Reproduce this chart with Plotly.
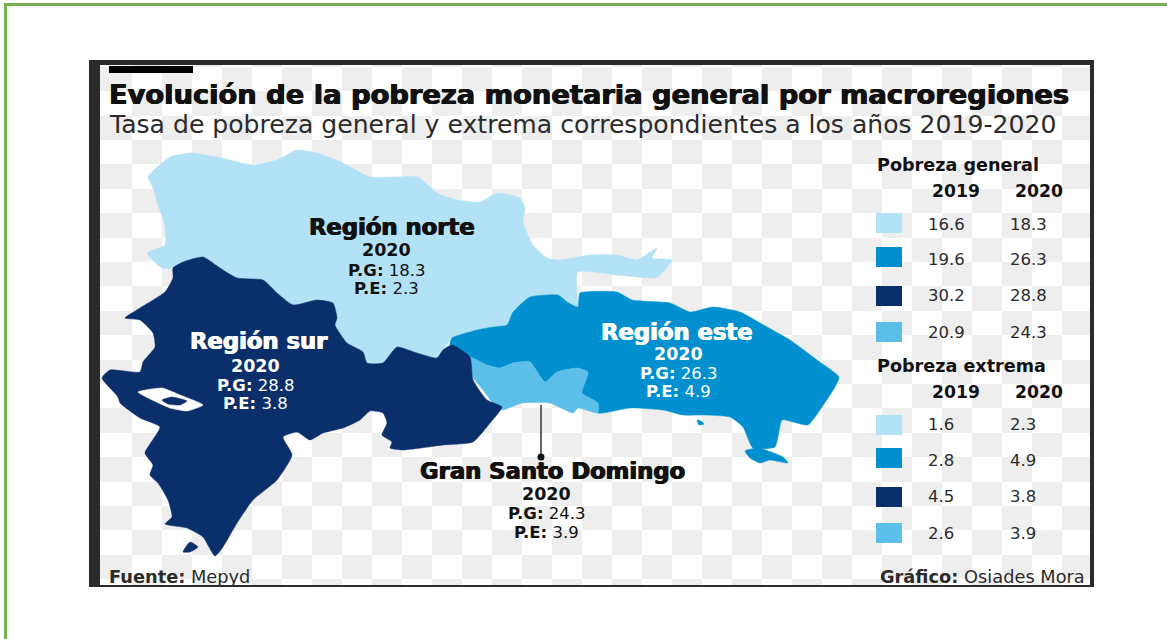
import numpy as np
import plotly.graph_objects as go

W, H = 1167, 639

# ---- chart values ----
regions = ["Región norte", "Región este", "Región sur", "Gran Santo Domingo"]
pg_2019 = [16.6, 19.6, 30.2, 20.9]
pg_2020 = [18.3, 26.3, 28.8, 24.3]
pe_2019 = [1.6, 2.8, 4.5, 2.6]
pe_2020 = [2.3, 4.9, 3.8, 3.9]
region_colors = ["#b3e2f7", "#0090cf", "#0a2f6b", "#5bbfe9"]
title = "Evolución de la pobreza monetaria general por macroregiones"
subtitle = "Tasa de pobreza general y extrema correspondientes a los años 2019-2020"

# ---- map outlines ----
norte_x = [148,170,190,217,253,277,297,317,343,370,397,418,437,457,480,497,520,525,523,533,547,560,590,617,637,657,652,672,658,650,617,578,577,578,567,558,530,513,507,493,477,452,443,437,417,397,383,367,363,347,335,337,333,317,293,277,263,237,220,203,183,173,162,147,165,165,158,153]
norte_y = [177,157,153,157,165,160,150,153,163,177,177,177,193,200,202,193,198,208,222,245,258,260,255,255,260,248,258,260,277,278,275,272,295,307,302,295,297,312,325,327,330,338,350,358,353,347,363,363,352,343,325,318,303,300,305,293,280,278,268,257,262,268,268,253,245,225,205,188]
sur_x = [203,220,237,263,277,293,317,333,337,335,347,363,367,383,397,417,437,443,452,470,473,487,502,490,473,443,403,390,392,382,387,383,370,360,343,323,310,297,283,292,277,253,237,223,215,203,187,165,172,168,158,150,153,145,160,140,120,118,102,110,140,143,155,153,140,125,140,165,173,173,183]
sur_y = [257,268,278,280,293,305,300,303,318,325,343,352,363,363,347,353,358,350,345,357,380,400,407,423,442,445,450,448,442,435,423,413,411,420,428,433,440,432,437,455,480,500,523,547,556,537,528,524,517,500,483,475,465,453,427,418,403,397,378,370,372,362,347,333,320,318,308,292,278,268,262]
este_x = [452,477,493,507,513,530,558,567,578,580,617,632,670,690,713,740,767,790,817,839,835,820,808,793,782,775,753,743,730,703,683,663,630,598,598,582,588,577,557,545,530,513,500,487,470,450]
este_y = [338,330,327,325,312,297,295,302,307,293,292,300,303,312,307,312,327,340,360,377,387,410,425,422,420,447,448,427,417,415,415,410,408,413,403,393,372,368,372,382,362,363,368,365,357,345]
sd_x = [470,487,500,513,530,545,557,577,588,582,598,598,578,573,550,522,502,493,483,473]
sd_y = [357,365,368,363,362,382,372,368,372,393,403,413,408,413,403,403,410,403,390,377]
lake_x = [138,162,180,203,187,170,148]
lake_y = [392,388,395,405,411,408,398]
lake_island_x = [162,172,187,180,168]
lake_island_y = [400,397,401,405,404]
beata_x = [183,190,198,190]
beata_y = [552,542,547,552]
islet_x = [697,701,704,699]
islet_y = [420,421,424,425]
saona_x = [745,758,783,788,770,760,750]
saona_y = [451,448,457,463,460,463,458]

GRAY = "#eeeeee"
DARK = "#2b2b2b"
GREEN = "#76b150"
FONT = "DejaVu Sans"
INK = "#111111"
SOFT = "#2b2b2b"

fig = go.Figure()

# checker backdrop, clipped to the frame
xe = np.r_[100, 102 + 30 * np.arange(1, 33), 1091]
ye = np.r_[65, 140 + 24.4 * np.arange(-3, 19), 585]
z = np.add.outer(np.arange(len(ye) - 1), np.arange(len(xe) - 1)) % 2
fig.add_trace(go.Heatmap(x=xe, y=ye, z=z, zmin=0, zmax=1, showscale=False, hoverinfo="skip",
                         colorscale=[[0, "#ffffff"], [1, GRAY]]))


def poly(xs, ys, color, smooth=0.5):
    fig.add_trace(go.Scatter(x=xs + xs[:1], y=ys + ys[:1], mode="lines", fill="toself",
                             fillcolor=color, hoverinfo="skip",
                             line=dict(color=color, width=0.5, shape="spline", smoothing=smooth)))


poly(norte_x, norte_y, region_colors[0])
poly(este_x, este_y, region_colors[1])
poly(sd_x, sd_y, region_colors[3])
poly(sur_x, sur_y, region_colors[2])
poly(lake_x, lake_y, "#ffffff")
poly(lake_island_x, lake_island_y, region_colors[2])
poly(beata_x, beata_y, region_colors[2])
poly(islet_x, islet_y, region_colors[1])
poly(saona_x, saona_y, region_colors[1])

# leader line
fig.add_trace(go.Scatter(x=[541, 541], y=[405, 457], mode="lines", line=dict(color="#666666", width=2), hoverinfo="skip"))
fig.add_trace(go.Scatter(x=[541], y=[457], mode="markers", marker=dict(color=INK, size=7), hoverinfo="skip"))


def txt(x, y, s, size, color=INK, anchor="center", heavy=False):
    f = dict(size=size, color=color, family=FONT)
    if heavy:
        f["shadow"] = f"0.6px 0 0 {color}, -0.6px 0 0 {color}"
    shift = {"left": -2, "right": 2, "center": 0}[anchor]
    fig.add_annotation(x=x + shift, y=y, text=s, showarrow=False, xanchor=anchor, yanchor="middle",
                       font=f, xref="x", yref="y")


# titles
txt(109, 94, f"<b>{title}</b>", 27.3, INK, "left", True)
txt(109, 124, subtitle, 25.1, SOFT, "left")

# region labels
label_pos = [
    dict(cx=392, ys=[227, 250, 270, 288], color=INK, dx=-6),
    dict(cx=677, ys=[332, 354, 373, 391], color="#ffffff", dx=1),
    dict(cx=259, ys=[341, 366, 385, 403], color="#ffffff", dx=-4),
    dict(cx=552, ys=[471, 494, 513, 532], color=INK, dx=-6),
]
for i, r in enumerate(regions):
    p = label_pos[i]
    c, ys = p["cx"], p["ys"]
    txt(c, ys[0], f"<b>{r}</b>", 22.7, p["color"], heavy=True)
    txt(c + p["dx"], ys[1], "<b>2020</b>", 17.5, p["color"])
    txt(c + p["dx"], ys[2], f"<b>P.G:</b> {pg_2020[i]}", 16.5, p["color"])
    txt(c + p["dx"], ys[3], f"<b>P.E:</b> {pe_2020[i]}", 16.5, p["color"])

# legend tables
txt(877, 165, "<b>Pobreza general</b>", 17.6, anchor="left")
txt(956, 191, "<b>2019</b>", 17.2)
txt(1039, 191, "<b>2020</b>", 17.2)
txt(877, 366, "<b>Pobreza extrema</b>", 17.6, anchor="left")
txt(956, 392, "<b>2019</b>", 17.2)
txt(1039, 392, "<b>2020</b>", 17.2)

swatch_top_g = [213, 247, 286, 322]
swatch_top_e = [415, 448, 487, 523]
row_g = [224, 259, 295, 332]
row_e = [424, 460, 496, 533]
shapes = []
for i in range(4):
    for top in (swatch_top_g[i], swatch_top_e[i]):
        shapes.append(dict(type="rect", x0=876, x1=902, y0=top, y1=top + 20, xref="x", yref="y",
                           fillcolor=region_colors[i], line=dict(width=0), layer="above"))
    txt(928, row_g[i], f"{pg_2019[i]}", 16.5, SOFT, "left")
    txt(1010, row_g[i], f"{pg_2020[i]}", 16.5, SOFT, "left")
    txt(928, row_e[i], f"{pe_2019[i]}", 16.5, SOFT, "left")
    txt(1010, row_e[i], f"{pe_2020[i]}", 16.5, SOFT, "left")

# footers
txt(109, 576, "<b>Fuente:</b> Mepyd", 17.8, SOFT, "left")
txt(1085, 576, "<b>Gráfico:</b> Osiades Mora", 17.8, SOFT, "right")

# frame, bar, outer border
for x0, y0, x1, y1 in [(89, 60, 1094, 65), (89, 60, 100, 587), (1090, 60, 1094, 587), (89, 585, 1094, 587)]:
    shapes.append(dict(type="rect", x0=x0, x1=x1, y0=y0, y1=y1, fillcolor=DARK, line=dict(width=0), layer="above"))
shapes.append(dict(type="rect", x0=109, x1=193, y0=66, y1=73, fillcolor="#000000", line=dict(width=0), layer="above"))
shapes.append(dict(type="rect", x0=4, x1=W, y0=3, y1=6, fillcolor=GREEN, line=dict(width=0), layer="above"))
shapes.append(dict(type="rect", x0=4, x1=7, y0=3, y1=H, fillcolor=GREEN, line=dict(width=0), layer="above"))

fig.update_layout(
    width=W, height=H, margin=dict(l=0, r=0, t=0, b=0), showlegend=False,
    plot_bgcolor="#ffffff", paper_bgcolor="#ffffff", shapes=shapes,
    xaxis=dict(range=[0, W], visible=False, fixedrange=True),
    yaxis=dict(range=[H, 0], visible=False, fixedrange=True),
)
fig.write_html("out.html", include_plotlyjs=True, config={"displayModeBar": False},
               post_script="document.body.style.margin='0';document.body.style.overflow='hidden';")
